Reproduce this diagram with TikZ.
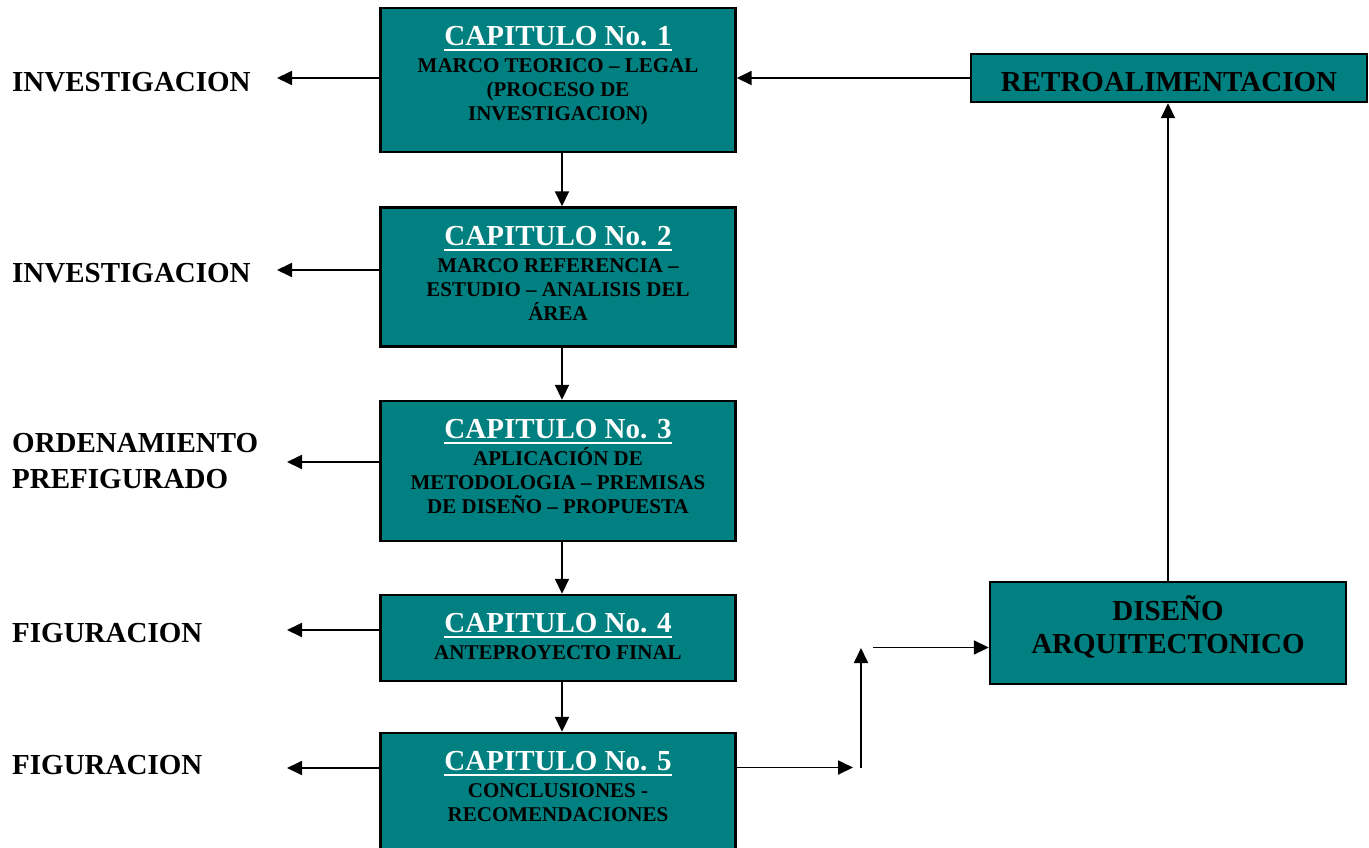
\documentclass[tikz,border=0pt]{standalone}
\usepackage{fontspec}
\setmainfont{Liberation Serif}
\usetikzlibrary{arrows.meta}
\definecolor{tealbox}{RGB}{0,128,128}
\newsavebox\capbox
\newcommand\capul[1]{\sbox\capbox{#1}\rlap{\usebox\capbox}\rule[-5.5pt]{\wd\capbox}{2pt}}
\newcommand\captitle[1]{{\fontsize{29}{24}\selectfont\color{white}\capul{#1}}}
\begin{document}
\begin{tikzpicture}[x=1pt,y=-1pt,
  box/.style={draw=black, line width=2.4pt, fill=tealbox, rectangle, inner sep=0pt, minimum width=355pt},
  boxtext/.style={font=\fontsize{21}{24}\selectfont\bfseries, align=center, anchor=north, inner sep=0pt},
  bigtext/.style={font=\fontsize{29}{33}\selectfont\bfseries, align=center, inner sep=0pt},
  lab/.style={font=\fontsize{29}{36}\selectfont\bfseries, align=left, anchor=west, inner sep=0pt},
  arr/.style={-{Triangle[length=15pt,width=14pt]}, line width=1.8pt}]
\useasboundingbox (0,0) rectangle (1369,848);
\fill[white] (0,0) rectangle (1369,848);

% chapter boxes
\node[box, minimum height=144pt] (b1) at (558,80) {};
\node[box, minimum height=139pt] (b2) at (558,277) {};
\node[box, minimum height=140pt] (b3) at (558,471) {};
\node[box, minimum height=86pt] (b4) at (558,638) {};
\node[box, minimum height=127pt] (b5) at (558,796.5) {};
\node[box, minimum width=396pt, minimum height=48pt] (retro) at (1169,78) {};
\node[box, minimum width=356pt, minimum height=102pt] (dis) at (1168,633) {};

% box texts
\node[boxtext] (tx1) at (558,26.5) {\captitle{CAPITULO No. 1}\\[3pt]MARCO TEORICO – LEGAL\\(PROCESO DE\\INVESTIGACION)};
\node[boxtext] (tx2) at (558,226.5) {\captitle{CAPITULO No. 2}\\[3pt]MARCO REFERENCIA –\\ESTUDIO – ANALISIS DEL\\ÁREA};
\node[boxtext] (tx3) at (558,419.5) {\captitle{CAPITULO No. 3}\\[3pt]APLICACIÓN DE\\METODOLOGIA – PREMISAS\\DE DISEÑO – PROPUESTA};
\node[boxtext] (tx4) at (558,613.5) {\captitle{CAPITULO No. 4}\\[3pt]ANTEPROYECTO FINAL};
\node[boxtext] (tx5) at (558,751.5) {\captitle{CAPITULO No. 5}\\[3pt]CONCLUSIONES -\\RECOMENDACIONES};
\node[bigtext] (txr) at (1169,82) {RETROALIMENTACION};
\node[bigtext, anchor=north] (txd) at (1168,601.7) {\rule{0pt}{19pt}\smash{DISEÑO}\\ARQUITECTONICO};

% left labels
\node[lab] (l1) at (12,81.7) {INVESTIGACION};
\node[lab] (l2) at (12,273.5) {INVESTIGACION};
\node[lab] (l3) at (12,461) {ORDENAMIENTO\\PREFIGURADO};
\node[lab] (l4) at (12,633) {FIGURACION};
\node[lab] (l5) at (12,765) {FIGURACION};

% arrow end coordinates
\coordinate (t1) at (277,78);
\coordinate (t2) at (277,270);
\coordinate (t3) at (287,462);
\coordinate (t4) at (287,630);
\coordinate (t5) at (287,768);
\coordinate (c1) at (853,767.5);
\coordinate (c2) at (861,767.5);
\coordinate (c3) at (861,648);
\coordinate (c4) at (873,647.5);

% connectors
\draw[arr] (b1.west |- t1) -- (t1);
\draw[arr] (b2.west |- t2) -- (t2);
\draw[arr] (b3.west |- t3) -- (t3);
\draw[arr] (b4.west |- t4) -- (t4);
\draw[arr] (b5.west |- t5) -- (t5);

\draw[arr] ([xshift=4pt]b1.south) -- ([xshift=4pt]b2.north);
\draw[arr] ([xshift=4pt]b2.south) -- ([xshift=4pt]b3.north);
\draw[arr] ([xshift=4pt]b3.south) -- ([xshift=4pt]b4.north);
\draw[arr] ([xshift=4pt]b4.south) -- ([xshift=4pt]b5.north);

\draw[arr] (b5.east |- c1) -- (c1);
\draw[arr] (c2) -- (c3);
\draw[arr] (c4) -- (dis.west |- c4);
\draw[arr] (dis.north) -- (retro.south -| dis.north);
\draw[arr] (retro.west) -- (b1.east |- retro.west);
\end{tikzpicture}
\end{document}
